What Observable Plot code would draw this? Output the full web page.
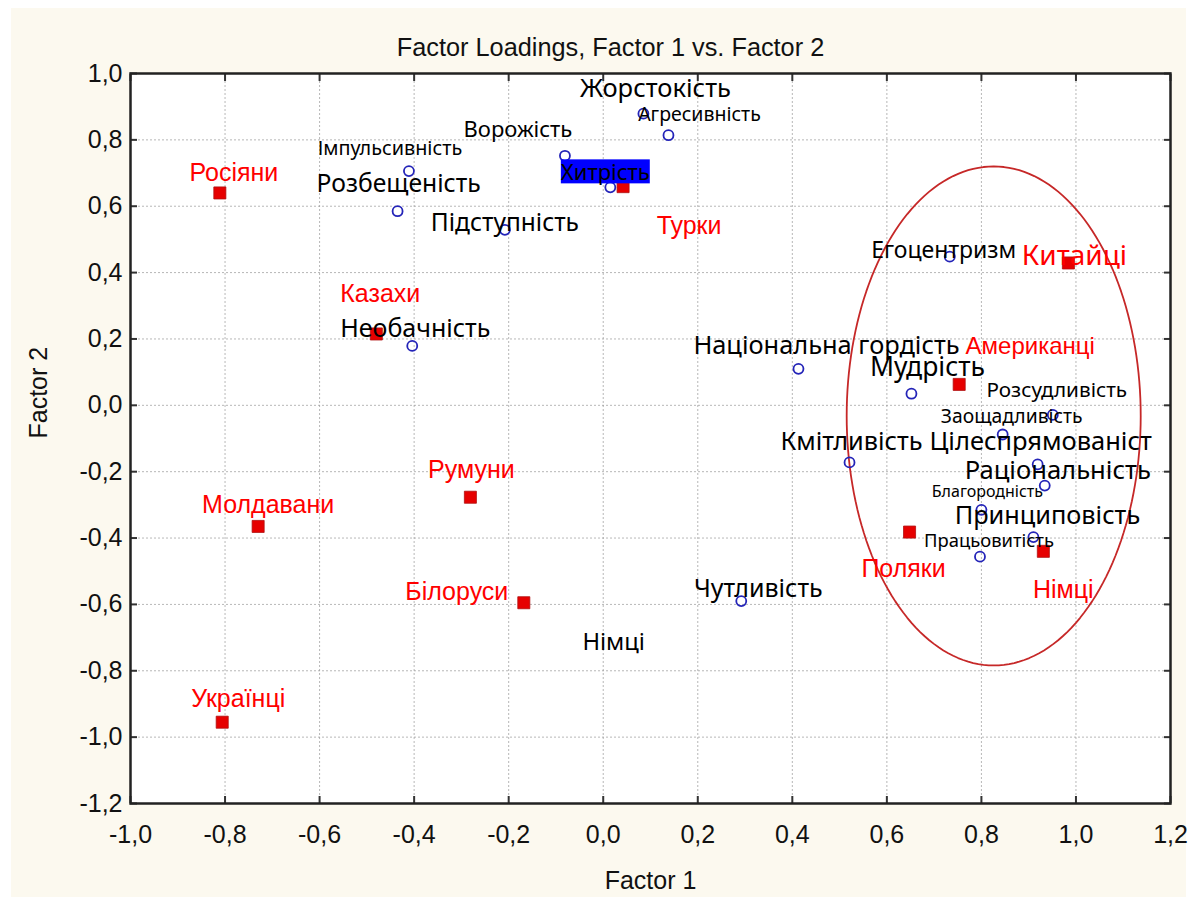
<!DOCTYPE html>
<html><head><meta charset="utf-8">
<script src="https://cdn.jsdelivr.net/npm/d3@7"></script>
<script src="https://cdn.jsdelivr.net/npm/@observablehq/plot@0.6"></script>
<style>
html,body{margin:0;padding:0;background:#fff;}
#bg{position:absolute;left:11px;top:8px;width:1175px;height:889px;background:#fcf9ef;}
#chart{position:absolute;left:0;top:0;}
</style></head><body><div id="bg"></div><div id="chart"></div>
<script>
// ---- data ----
const nations = ["Росіяни","Турки","Казахи","Румуни","Молдавани","Білоруси","Українці","Китайці","Американці","Поляки","Німці"];
const nationF1 = [-0.811, 0.042, -0.480, -0.281, -0.730, -0.168, -0.806, 0.984, 0.753, 0.648, 0.931];
const nationF2 = [0.640, 0.659, 0.215, -0.277, -0.365, -0.595, -0.955, 0.429, 0.063, -0.382, -0.440];

const traits = ["Жорстокість","Агресивність","Ворожість","Імпульсивність","Розбещеність","Підступність","Хитрість","Необачність","Національна гордість","Мудрість","Егоцентризм","Розсудливість","Заощадливість","Кмітливість","Цілеспрямованіст","Раціональність","Благородність","Принциповість","Працьовитість","Чутливість"];
const traitF1 = [0.085, 0.138, -0.081, -0.411, -0.435, -0.208, 0.015, -0.404, 0.413, 0.652, 0.733, 0.951, 0.845, 0.521, 0.919, 0.934, 0.800, 0.910, 0.797, 0.292];
const traitF2 = [0.879, 0.814, 0.752, 0.706, 0.585, 0.529, 0.657, 0.179, 0.110, 0.035, 0.448, -0.029, -0.088, -0.172, -0.178, -0.242, -0.315, -0.397, -0.456, -0.590];

const noteText = ["Німці"];
const noteF1 = [0.022];
const noteF2 = [-0.714];

const ellipseCentre = [0.826, -0.032];
const ellipseRadii = [0.311, 0.752];

const xTicks = [-1.0, -0.8, -0.6, -0.4, -0.2, 0.0, 0.2, 0.4, 0.6, 0.8, 1.0, 1.2];
const yTicks = [-1.2, -1.0, -0.8, -0.6, -0.4, -0.2, 0.0, 0.2, 0.4, 0.6, 0.8, 1.0];

// ---- label styling (offsets in px, font sizes) ----
const nationLabelStyle = {
  "Росіяни": [14, -20, 25], "Турки": [66, 39, 25], "Казахи": [4, -40, 25], "Румуни": [1, -27, 25],
  "Молдавани": [10, -21, 25], "Білоруси": [-67, -11, 25], "Українці": [16, -23, 25],
  "Китайці": [6, -7, 28], "Американці": [71, -38, 24], "Поляки": [-6, 37, 25], "Німці": [20, 39, 25]
};
const traitLabelStyle = {
  "Жорстокість": [12, -25, 25.5], "Агресивність": [31, -20, 19.5], "Ворожість": [-47, -26, 22],
  "Імпульсивність": [-19, -22, 19.8], "Розбещеність": [1, -27, 24.7], "Підступність": [0, -7, 24.5],
  "Хитрість": [-5, -14, 22], "Необачність": [3, -17, 25], "Національна гордість": [28, -23, 25.4],
  "Мудрість": [16, -26, 26.5], "Егоцентризм": [-6, -6, 23], "Розсудливість": [4, -25, 20.7],
  "Заощадливість": [9, -18, 19.3], "Кмітливість": [2, -21, 25.3], "Цілеспрямованіст": [3, -23, 25.5],
  "Раціональність": [13, -15, 25.6], "Благородність": [6, -18, 16], "Принциповість": [14, -21, 25.3],
  "Працьовитість": [9, -16, 18.4], "Чутливість": [17, -12, 25]
};

const nationData = nations.map((n, i) => ({name: n, f1: nationF1[i], f2: nationF2[i]}));
const traitData = traits.map((n, i) => ({name: n, f1: traitF1[i], f2: traitF2[i]}));
const noteData = noteText.map((n, i) => ({name: n, f1: noteF1[i], f2: noteF2[i]}));
const ellipsePts = d3.range(0, 360, 2).map(a => {
  const t = a * Math.PI / 180;
  return {x: ellipseCentre[0] + ellipseRadii[0] * Math.cos(t), y: ellipseCentre[1] + ellipseRadii[1] * Math.sin(t)};
});

const fmt = d => d3.format(".1f")(d).replace("−", "-").replace(".", ",");
const sans = "'Noto Sans', 'Open Sans', sans-serif";
const arial = "'Liberation Sans', Arial, sans-serif";

const traitMarks = traitData.map(d => {
  const [dx, dy, fs] = traitLabelStyle[d.name];
  return Plot.text([d], {x: "f1", y: "f2", text: "name", dx, dy, fontSize: fs, fontFamily: sans, fill: "#000", lineAnchor: "middle"});
});
const nationMarks = nationData.map(d => {
  const [dx, dy, fs] = nationLabelStyle[d.name];
  return Plot.text([d], {x: "f1", y: "f2", text: "name", dx, dy, fontSize: fs,
    fontFamily: d.name === "Китайці" ? sans : arial, fill: "#ff0000", lineAnchor: "middle"});
});

const plot = Plot.plot({
  width: 1200, height: 897,
  marginLeft: 130, marginRight: 30, marginTop: 73, marginBottom: 94,
  style: {fontFamily: arial, background: "transparent", color: "#111", overflow: "visible"},
  x: {domain: [-1.0, 1.2], label: null},
  y: {domain: [-1.2, 1.0], label: null},
  marks: [
    Plot.frame({fill: "white", stroke: null}),
    Plot.gridX(xTicks, {stroke: "#999", strokeOpacity: 0.7, strokeDasharray: "2,2"}),
    Plot.gridY(yTicks, {stroke: "#999", strokeOpacity: 0.7, strokeDasharray: "2,2"}),
    Plot.axisX(xTicks, {anchor: "bottom", tickSize: -7, tickPadding: 29, tickFormat: fmt, fontSize: 25, stroke: "#333", strokeWidth: 2}),
    Plot.axisX(xTicks, {anchor: "top", tickSize: -7, tickFormat: () => "", stroke: "#333", strokeWidth: 2}),
    Plot.axisY(yTicks, {anchor: "left", tickSize: -7, tickPadding: 15, tickFormat: fmt, fontSize: 25, stroke: "#333", strokeWidth: 2}),
    Plot.axisY(yTicks, {anchor: "right", tickSize: -7, tickFormat: () => "", stroke: "#333", strokeWidth: 2}),
    Plot.frame({stroke: "#222", strokeWidth: 2.5}),
    Plot.line(ellipsePts, {x: "x", y: "y", stroke: "#c62828", strokeWidth: 1.8, curve: "linear-closed"}),
    Plot.dot(traitData, {x: "f1", y: "f2", r: 5, stroke: "#2424b8", strokeWidth: 1.8, fill: "none"}),
    Plot.dot(nationData, {x: "f1", y: "f2", symbol: "square", r: 6.8, fill: "#e60000", stroke: "#b01010", strokeWidth: 0.8}),
    ...traitMarks,
    ...nationMarks,
    Plot.text(noteData, {x: "f1", y: "f2", text: "name", fontSize: 23.7, fontFamily: sans, fill: "#000"}),
    Plot.text(["Factor Loadings, Factor 1 vs. Factor 2"], {frameAnchor: "top", dx: -40, dy: -26, lineAnchor: "middle", fontSize: 25.3, fill: "#111"}),
    Plot.text(["Factor 1"], {frameAnchor: "bottom", dy: 77, lineAnchor: "middle", fontSize: 25, fill: "#111"}),
    Plot.text(["Factor 2"], {frameAnchor: "left", dx: -92, rotate: -90, lineAnchor: "middle", fontSize: 25, fill: "#111"})
  ]
});
document.getElementById("chart").appendChild(plot);

// blue highlight behind "Хитрість"
plot.querySelectorAll("text").forEach(t => {
  if (t.textContent === "Хитрість") {
    const b = t.getBBox();
    const r = document.createElementNS("http://www.w3.org/2000/svg", "rect");
    r.setAttribute("x", b.x); r.setAttribute("y", b.y + 3);
    r.setAttribute("width", b.width); r.setAttribute("height", b.height - 6);
    r.setAttribute("fill", "#0000ff");
    const tr = t.getAttribute("transform");
    if (tr) r.setAttribute("transform", tr);
    t.parentNode.insertBefore(r, t);
  }
});
</script></body></html>
